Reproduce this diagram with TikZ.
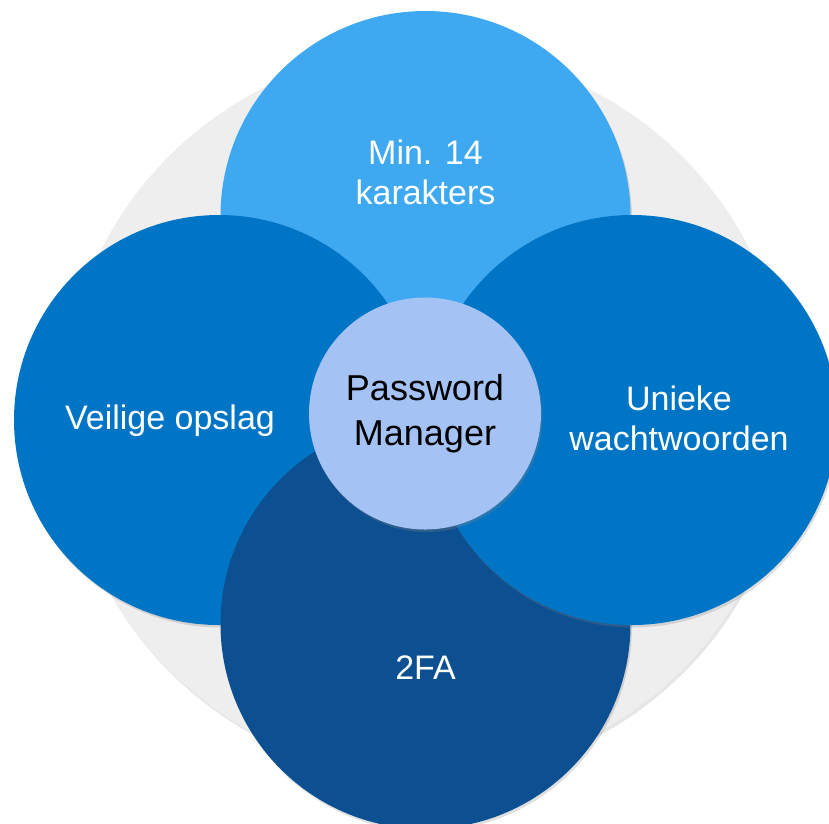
\documentclass[tikz,border=0pt]{standalone}
\usepackage{fontspec}
\setmainfont{Liberation Sans}
\usetikzlibrary{shadows, positioning}

\definecolor{ringgray}{RGB}{238,238,238}
\definecolor{topblue}{RGB}{62,169,240}
\definecolor{midblue}{RGB}{1,117,197}
\definecolor{deepblue}{RGB}{13,80,145}
\definecolor{coreblue}{RGB}{164,194,244}

\tikzset{
	petal/.style={circle, inner sep=0pt, minimum size=410pt,
		drop shadow={shadow xshift=1.5pt, shadow yshift=-2.5pt, opacity=0.25}},
	petaltext/.style={text=white, align=center,
		font=\fontsize{34}{40}\selectfont},
}

\begin{document}
\begin{tikzpicture}[x=1pt, y=-1pt]
	\useasboundingbox (0,0) rectangle (829,823);

	%% background ring
	\node[circle, fill=ringgray, inner sep=0pt, minimum size=726pt,
		drop shadow={shadow xshift=1.5pt, shadow yshift=-3pt, opacity=0.2}] (ring) at (425.5,413) {};

	%% petals
	\node[petal, fill=topblue] (lengte) at (425.5,216) {};
	\node[petal, fill=midblue] (opslag) at (219,420) {};
	\node[petal, fill=deepblue] (tfa) at (425.5,624) {};
	\node[petal, fill=midblue] (uniek) at (632,420) {};

	%% core
	\node[circle, fill=coreblue, inner sep=0pt, minimum size=232pt,
		drop shadow={shadow xshift=1.5pt, shadow yshift=-2.5pt, opacity=0.3},
		align=center, font=\fontsize{36}{45}\selectfont] (pm) at (425,413.5) {Password\\Manager};

	%% labels
	\node[petaltext] (lengtetxt) at (425.5,172) {Min. 14\\karakters};
	\node[petaltext] (opslagtxt) at (170,421) {Veilige opslag};
	\node[petaltext] (uniektxt) at (679,418) {Unieke\\wachtwoorden};
	\node[petaltext] (tfatxt) at (425.5,668) {2FA};
\end{tikzpicture}
\end{document}
